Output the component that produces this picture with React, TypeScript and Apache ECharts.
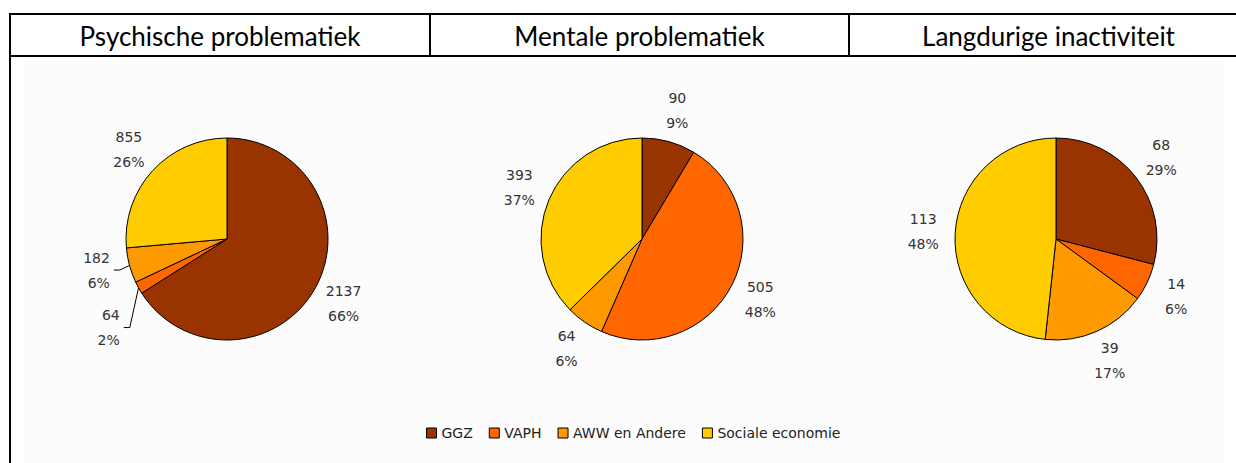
import React, { useEffect, useRef } from "react";
import * as echarts from "echarts";

// ---- Data ----
const CATEGORIES = ["GGZ", "VAPH", "AWW en Andere", "Sociale economie"];
const PANEL_TITLES = ["Psychische problematiek", "Mentale problematiek", "Langdurige inactiviteit"];
const PSYCHISCHE = [2137, 64, 182, 855];
const MENTALE = [90, 505, 64, 393];
const LANGDURIG = [68, 14, 39, 113];

// ---- Styles / layout ----
const COLORS = ["#993300", "#FF6600", "#FF9900", "#FFCC00"];
const W = 1236;
const H = 463;
const TABLE_LEFT = 10;
const TABLE_TOP = 14;
const HEADER_BOTTOM = 56;
const CELL_EDGES = [10, 430, 849, 1248];
const PIE_CENTERS_X = [227, 642, 1056];
const PIE_CENTER_Y = 239;
const PIE_RADIUS = 101;
// slices that get a leader line: series index -> { data index: vertical shift of label }
const LEADERS: Record<number, Record<number, number>> = { 0: { 1: 35, 2: 2 } };

const PANELS = [PSYCHISCHE, MENTALE, LANGDURIG];

export default function App() {
  const ref = useRef<HTMLDivElement>(null);

  useEffect(() => {
    if (!ref.current) return;
    const chart = echarts.init(ref.current, null, { renderer: "svg" });

    const series = PANELS.map((values, si) => ({
      type: "pie",
      name: PANEL_TITLES[si],
      center: [PIE_CENTERS_X[si], PIE_CENTER_Y],
      radius: PIE_RADIUS,
      startAngle: 90,
      clockwise: true,
      percentPrecision: 0,
      avoidLabelOverlap: false,
      silent: true,
      emphasis: { disabled: true },
      data: CATEGORIES.map((name, i) => {
        const lead = LEADERS[si] && LEADERS[si][i] != null;
        return {
          name,
          value: values[i],
          itemStyle: { color: COLORS[i] },
          ...(lead
            ? {
                labelLine: { show: true, length: 10, length2: 6 },
                label: { distanceToLabelLine: 4 },
              }
            : {}),
        };
      }),
      itemStyle: { borderColor: "#000", borderWidth: 1 },
      label: {
        show: true,
        position: "outside",
        formatter: "{c}\n{d}%",
        fontFamily: "DejaVu Sans",
        fontSize: 14,
        lineHeight: 25,
        color: "#333",
        distanceToLabelLine: 0,
      },
      labelLine: {
        show: false,
        length: 32,
        length2: 0,
        lineStyle: { color: "#000", width: 1 },
      },
      labelLayout: (p: any) => {
        const map = LEADERS[si];
        if (map && map[p.dataIndex] != null) {
          const dy = map[p.dataIndex];
          const pts = p.labelLinePoints;
          const res: any = { dy };
          if (pts && pts.length >= 3) {
            res.labelLinePoints = [
              [pts[0][0], pts[0][1]],
              [pts[1][0], pts[1][1] + dy],
              [pts[2][0], pts[2][1] + dy],
            ];
          }
          return res;
        }
        return { align: "center" };
      },
    }));

    const graphics: any[] = [
      {
        type: "rect",
        z: -10,
        shape: { x: 24, y: HEADER_BOTTOM + 2, width: 1201, height: H - HEADER_BOTTOM - 2 },
        style: { fill: "#fcfcfc" },
      },
      {
        type: "line",
        shape: { x1: TABLE_LEFT, y1: TABLE_TOP - 1, x2: TABLE_LEFT, y2: H },
        style: { stroke: "#000", lineWidth: 2 },
      },
      {
        type: "line",
        shape: { x1: TABLE_LEFT - 1, y1: TABLE_TOP, x2: W, y2: TABLE_TOP },
        style: { stroke: "#000", lineWidth: 2 },
      },
      {
        type: "line",
        shape: { x1: TABLE_LEFT - 1, y1: HEADER_BOTTOM, x2: W, y2: HEADER_BOTTOM },
        style: { stroke: "#000", lineWidth: 2 },
      },
    ];
    for (let k = 1; k < CELL_EDGES.length - 1; k++) {
      graphics.push({
        type: "line",
        shape: { x1: CELL_EDGES[k], y1: TABLE_TOP, x2: CELL_EDGES[k], y2: HEADER_BOTTOM },
        style: { stroke: "#000", lineWidth: 2 },
      });
    }
    PANEL_TITLES.forEach((t, k) => {
      graphics.push({
        type: "text",
        x: (CELL_EDGES[k] + CELL_EDGES[k + 1]) / 2,
        y: (TABLE_TOP + HEADER_BOTTOM) / 2 + 1,
        style: {
          text: t,
          fill: "#000",
          font: "26px Lato",
          textAlign: "center",
          textVerticalAlign: "middle",
        },
      });
    });

    chart.setOption({
      animation: false,
      backgroundColor: "#fff",
      graphic: graphics,
      legend: {
        data: CATEGORIES,
        left: 421,
        top: 421,
        icon: "rect",
        itemWidth: 10,
        itemHeight: 10,
        itemGap: 16,
        selectedMode: false,
        itemStyle: { borderColor: "#000", borderWidth: 1 },
        textStyle: { fontFamily: "DejaVu Sans", fontSize: 14, color: "#222", padding: [0, 0, 0, 0] },
      },
      series,
    });

    return () => chart.dispose();
  }, []);

  return (
    <div
      ref={ref}
      style={{ position: "fixed", left: 0, top: 0, width: W, height: H, background: "#fff" }}
    />
  );
}
